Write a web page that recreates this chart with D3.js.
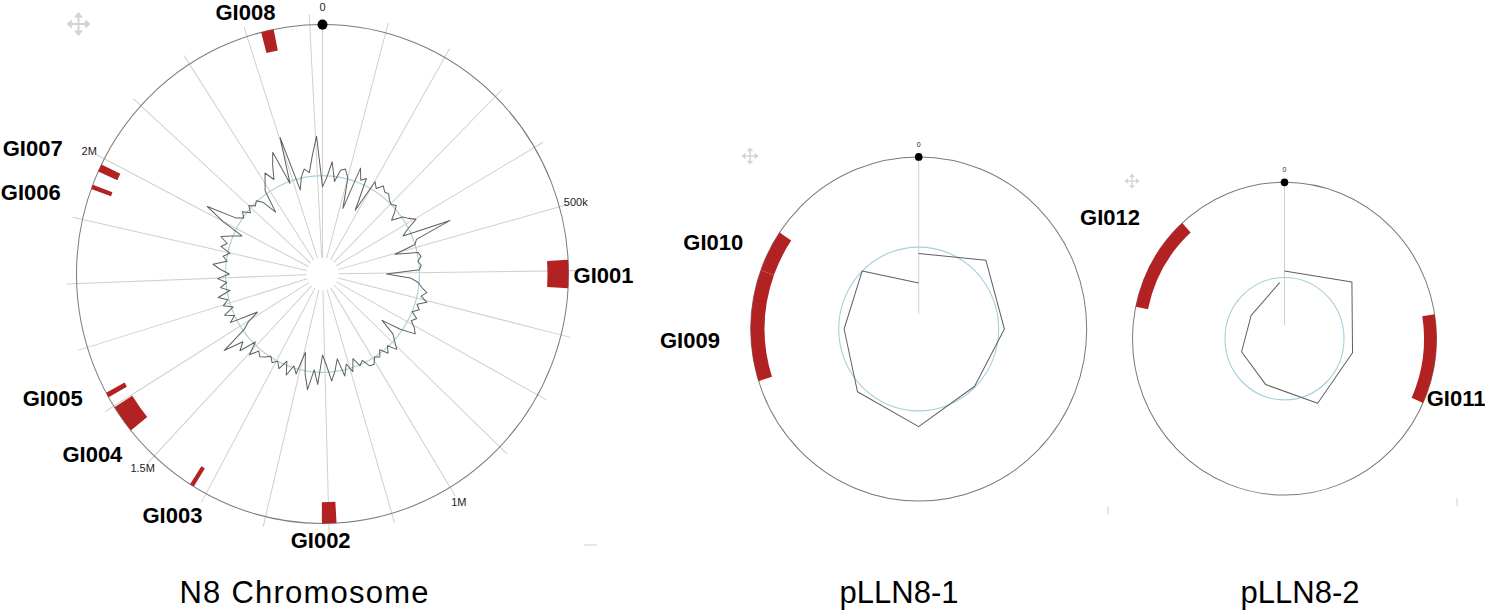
<!DOCTYPE html>
<html><head><meta charset="utf-8">
<script src="https://cdn.jsdelivr.net/npm/d3@7"></script>
<style>
html,body{margin:0;padding:0;background:#fff;}
svg{display:block;font-family:"Liberation Sans",Arial,sans-serif;}
</style></head><body>
<svg id="chart" width="1485" height="612"></svg>
<script>
// ================= DATA =================
const titles = ["N8 Chromosome", "pLLN8-1", "pLLN8-2"];

const chromosomeLength = 2420000;
const plasmid1Length = 40000;
const plasmid2Length = 35500;

const tickStep = 100000;
const tickLabelValues = [0, 500000, 1000000, 1500000, 2000000];
const tickLabels = ["0", "500k", "1M", "1.5M", "2M"];

// genomic islands
const chromGINames = ["GI001","GI002","GI003","GI004","GI005","GI006","GI007","GI008"];
const chromGIStart = [583000, 1188000, 1422000, 1554000, 1616000, 1949000, 1978000, 2323000];
const chromGIEnd   = [627000, 1211000, 1429000, 1598000, 1624000, 1956000, 1990000, 2343000];

const p1GINames = ["GI009","GI010"];
const p1GIStart = [28040, 32220];
const p1GIEnd   = [32220, 33790];

const p2GINames = ["GI011","GI012"];
const p2GIStart = [7990, 27790];
const p2GIEnd   = [11270, 31330];

// GC content (%) per window, windows evenly spaced from position 0
const chromGCMean = 38;
const chromGC = [
  34.3, 37.3, 42.7, 36.3, 40.3, 41.0, 38.3, 28.3,
  42.7, 39.0, 40.3, 29.3, 40.7, 39.0, 41.0, 39.7,
  40.0, 38.7, 38.0, 39.0, 37.0, 34.7, 38.3, 39.7,
  41.7, 37.7, 35.3, 51.7, 39.0, 38.0, 30.7, 38.3,
  39.0, 37.7, 38.7, 38.0, 27.0, 35.0, 37.7, 39.0,
  41.0, 39.3, 41.7, 38.7, 40.0, 38.0, 40.3, 39.0,
  41.0, 42.3, 37.3, 30.7, 36.3, 38.3, 40.7, 37.7,
  39.7, 37.0, 39.0, 38.0, 40.0, 39.7, 37.0, 38.3,
  35.3, 39.3, 36.3, 40.0, 34.0, 37.7, 41.0, 35.7,
  32.3, 42.0, 37.3, 44.0, 39.0, 32.0, 39.7, 37.3,
  41.0, 36.7, 40.0, 38.0, 39.3, 37.7, 39.0, 40.0,
  38.7, 41.7, 37.3, 43.0, 40.3, 47.0, 37.7, 35.0,
  30.7, 40.3, 38.0, 41.0, 37.3, 40.3, 38.3, 41.3,
  37.0, 40.0, 37.7, 40.7, 36.7, 39.7, 42.3, 37.7,
  39.3, 37.3, 40.7, 39.0, 41.7, 38.3, 35.3, 43.0,
  50.0, 40.0, 37.7, 39.3, 37.0, 39.0, 37.3, 38.3,
  36.3, 31.3, 39.0, 41.3, 44.0, 40.7, 45.0, 49.0,
  37.3, 52.7, 34.3, 38.3, 40.7, 39.3, 44.7, 51.0
];

const p1GCMean = 36;
const p1GCWindow = 5000;
const p1GC = [33.9, 41.0, 37.9, 35.7, 41.1, 38.2, 34.2, 36.0, 24.3];

const p2GCMean = 35;
const p2GCWindow = 5000;
const p2GC = [37.1, 44.2, 38.3, 38.8, 31.3, 30.1, 28.6, 33.4];

// ================= LAYOUT =================
const RED = "#b22222";
const svg = d3.select("#chart");

function toGI(names, starts, ends){
  return names.map((n,i)=>({name:n, start:starts[i], end:ends[i]}));
}

const panels = [
  {
    title: titles[0], titleX: 304, titleLen: 249,
    cx: 322.5, cy: 274, R: 246, sy: 1.014,
    length: chromosomeLength,
    spokes: d3.range(0, chromosomeLength, tickStep),
    spokeInner: 16, spokeOuter: 256,
    ticks: tickLabelValues.map((v,i)=>({pos:v, label:tickLabels[i]})),
    tickR: 263, tickFont: 11,
    gc: chromGC, gcMean: chromGCMean, gcStep: chromosomeLength / chromGC.length, gcBase: 97, closed: true,
    gi: toGI(chromGINames, chromGIStart, chromGIEnd), giThick: 21,
    giLabel: {GI001:[90.2,281], GI002:[180.4,266], GI003:[211.9,284], GI004:[232,292],
              GI005:[245.3,297], GI006:[285.7,303], GI007:[293.5,316], GI008:[343.6,273]},
    dotR: 5, move: [78.5, 24, 12]
  },
  {
    title: titles[1], titleX: 899, titleLen: null,
    cx: 918.7, cy: 329, R: 168, sy: 1.024,
    length: plasmid1Length,
    spokes: [0], spokeInner: 15, spokeOuter: 168,
    ticks: [{pos:0, label:"0"}], tickR: 180, tickFont: 7,
    gc: p1GC, gcMean: p1GCMean, gcStep: p1GCWindow, gcBase: 80, closed: false,
    gi: toGI(p1GINames, p1GIStart, p1GIEnd), giThick: 14,
    giLabel: {GI009:[267.2,229], GI010:[292.9,223]},
    dotR: 3.8, move: [750, 156, 8.5]
  },
  {
    title: titles[2], titleX: 1300, titleLen: null,
    cx: 1284.5, cy: 338.7, R: 152, sy: 1.029,
    length: plasmid2Length,
    spokes: [0], spokeInner: 13, spokeOuter: 152,
    ticks: [{pos:0, label:"0"}], tickR: 164, tickFont: 7,
    gc: p2GC, gcMean: p2GCMean, gcStep: p2GCWindow, gcBase: 59.5, closed: false,
    gi: toGI(p2GINames, p2GIStart, p2GIEnd), giThick: 12.5,
    giLabel: {GI011:[109,181.5], GI012:[304.9,212.7]},
    dotR: 3.8, move: [1132, 181, 7.5]
  }
];

function drawMove(x, y, s){
  const g = svg.append("g").attr("transform", `translate(${x},${y})`).attr("fill","#d2d2d2").attr("stroke","#d2d2d2");
  g.append("line").attr("x1",-s*0.6).attr("x2",s*0.6).attr("y1",0).attr("y2",0).attr("stroke-width", s*0.16);
  g.append("line").attr("y1",-s*0.6).attr("y2",s*0.6).attr("x1",0).attr("x2",0).attr("stroke-width", s*0.16);
  const head = `M0,${-s} L${s*0.38},${-s*0.55} L${-s*0.38},${-s*0.55} Z`;
  [0,90,180,270].forEach(r=> g.append("path").attr("d", head).attr("stroke","none").attr("transform",`rotate(${r})`));
}

panels.forEach(p=>{
  const angle = d3.scaleLinear().domain([0, p.length]).range([0, 2*Math.PI]);
  const gcR = d3.scaleLinear().domain([p.gcMean - 10, p.gcMean + 10]).range([p.gcBase - 30, p.gcBase + 30]);
  const g = svg.append("g").attr("transform", `translate(${p.cx},${p.cy}) scale(1,${p.sy})`);

  // spokes
  g.selectAll("line.spoke").data(p.spokes).join("line").attr("class","spoke")
    .attr("x1", d=>p.spokeInner*Math.sin(angle(d)))
    .attr("y1", d=>-p.spokeInner*Math.cos(angle(d)))
    .attr("x2", d=>(d===0 ? p.R : p.spokeOuter)*Math.sin(angle(d)))
    .attr("y2", d=>-(d===0 ? p.R : p.spokeOuter)*Math.cos(angle(d)))
    .attr("stroke","#d0d0d0").attr("stroke-width",1);

  // GC baseline
  g.append("circle").attr("r", gcR(p.gcMean)).attr("fill","none")
    .attr("stroke","#a8cfda").attr("stroke-width",1.1);

  // GC line
  const gcData = p.gc.map((v,i)=>({pos:i*p.gcStep, gc:v}));
  const line = d3.lineRadial().angle(d=>angle(d.pos)).radius(d=>gcR(d.gc))
    .curve(p.closed ? d3.curveLinearClosed : d3.curveLinear);
  g.append("path").datum(gcData).attr("d", line).attr("fill","none")
    .attr("stroke","#5f5f5f").attr("stroke-width",1).attr("stroke-linejoin","round");

  // outer circle
  g.append("circle").attr("r", p.R).attr("fill","none").attr("stroke","#7a7a7a").attr("stroke-width",1);

  // GI arcs
  const arc = d3.arc().innerRadius(p.R - p.giThick).outerRadius(p.R);
  g.selectAll("path.gi").data(p.gi).join("path").attr("class","gi")
    .attr("d", d=>arc({startAngle:angle(d.start), endAngle:angle(d.end)}))
    .attr("fill", RED);

  // origin dot
  g.append("circle").attr("cx",0).attr("cy",-p.R).attr("r",p.dotR).attr("fill","#000");

  // tick labels
  svg.selectAll(null).data(p.ticks).join("text")
    .attr("x", d=>p.cx + p.tickR*Math.sin(angle(d.pos)))
    .attr("y", d=>p.cy - p.tickR*Math.cos(angle(d.pos))*p.sy)
    .attr("text-anchor","middle").attr("dy","0.35em")
    .attr("font-size", p.tickFont).attr("fill","#222")
    .text(d=>d.label);

  // GI labels
  svg.selectAll(null).data(p.gi).join("text")
    .attr("x", d=>p.cx + p.giLabel[d.name][1]*Math.sin(p.giLabel[d.name][0]*Math.PI/180))
    .attr("y", d=>p.cy - p.giLabel[d.name][1]*Math.cos(p.giLabel[d.name][0]*Math.PI/180))
    .attr("text-anchor","middle").attr("dy","0.36em")
    .attr("font-size",22).attr("font-weight","bold").attr("fill","#000")
    .text(d=>d.name);

  // title
  const t = svg.append("text").attr("x", p.titleX).attr("y", 603)
    .attr("text-anchor","middle").attr("font-size",31).attr("fill","#000")
    .text(p.title);
  if (p.titleLen) t.attr("textLength", p.titleLen).attr("lengthAdjust","spacing");

  drawMove(p.move[0], p.move[1], p.move[2]);
});

// small resize-handle marks
svg.append("line").attr("x1",584).attr("x2",597).attr("y1",545).attr("y2",545).attr("stroke","#cfcfcf");
svg.append("line").attr("x1",1108).attr("x2",1108).attr("y1",506).attr("y2",514).attr("stroke","#cfcfcf");
svg.append("line").attr("x1",1457).attr("x2",1457).attr("y1",498).attr("y2",506).attr("stroke","#cfcfcf");
</script>
</body></html>
